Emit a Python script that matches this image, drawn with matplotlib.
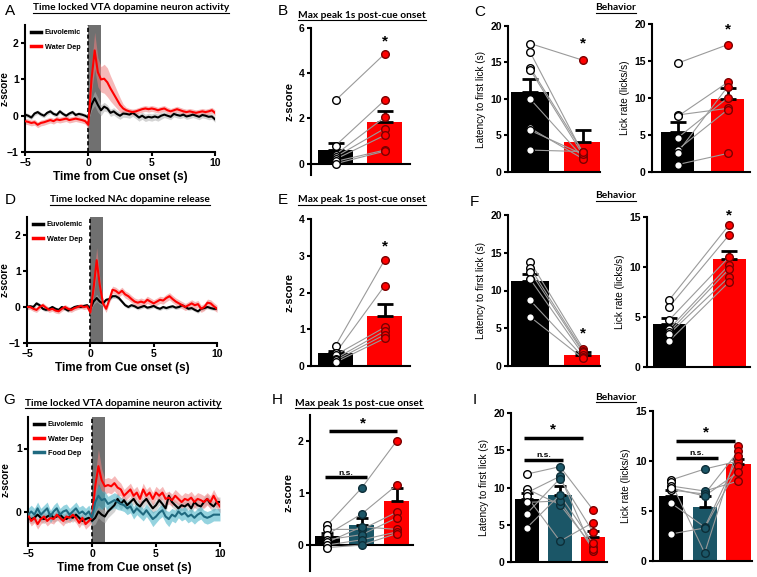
import numpy as np
import matplotlib.pyplot as plt
from matplotlib.lines import Line2D

plt.rcParams['font.family'] = ['Liberation Sans', 'DejaVu Sans']

W, H = 757, 577
RED = '#ff0000'
TEAL_BAR = '#1b5667'
TEAL_LINE = '#1f6a80'
TEAL_BAND = '#3fb0c6'

# time axis, 0.25 s steps from -5 to 10 s
t = np.linspace(-5, 10, 61)

# ---- panel A: VTA dopamine neuron activity ----
a_euv = [0.03, 0.0, -0.05, 0.06, 0.1, 0.04, 0.0, 0.08, 0.12, 0.05, 0.02, 0.12, 0.05, 0.0, 0.06, 0.1, 0.02, 0.05, 0.03, 0.0,
         -0.05, 0.3, 0.48, 0.3, 0.15, 0.25, 0.2, 0.08, 0.12, 0.05, 0.0, 0.06, 0.05, 0.03, 0.08, 0.02, -0.05, 0.0, -0.06, -0.03,
         -0.05, -0.02, -0.05, 0.0, 0.03, 0.0, -0.03, 0.05, 0.02, 0.0, 0.03, -0.02, 0.0, 0.03, 0.0, -0.03, 0.02, 0.0, -0.03, -0.02, -0.1]
a_euv_sem = [0.06, 0.06, 0.06, 0.06, 0.06, 0.06, 0.06, 0.06, 0.06, 0.06, 0.06, 0.06, 0.06, 0.06, 0.06, 0.06, 0.06, 0.06, 0.06, 0.06,
             0.08, 0.15, 0.2, 0.2, 0.15, 0.12, 0.1, 0.1, 0.1, 0.1, 0.1, 0.1, 0.1, 0.1, 0.1, 0.1, 0.1, 0.1, 0.1, 0.1,
             0.1, 0.1, 0.1, 0.1, 0.08, 0.08, 0.08, 0.08, 0.08, 0.08, 0.08, 0.08, 0.08, 0.08, 0.08, 0.08, 0.08, 0.08, 0.08, 0.08, 0.08]
a_wd = [-0.15, -0.17, -0.2, -0.18, -0.25, -0.2, -0.18, -0.15, -0.12, -0.15, -0.1, -0.12, -0.1, -0.08, -0.12, -0.1, -0.08, -0.1, -0.12, -0.15,
        -0.25, 1.0, 1.8, 1.2, 1.0, 1.02, 0.92, 0.75, 0.6, 0.45, 0.3, 0.2, 0.15, 0.12, 0.1, 0.12, 0.15, 0.18, 0.2, 0.18,
        0.2, 0.18, 0.15, 0.18, 0.2, 0.15, 0.12, 0.15, 0.18, 0.15, 0.12, 0.1, 0.12, 0.1, 0.08, 0.1, 0.12, 0.1, 0.12, 0.15, 0.08]
a_wd_sem = [0.08, 0.08, 0.08, 0.08, 0.08, 0.08, 0.08, 0.08, 0.08, 0.08, 0.08, 0.08, 0.08, 0.08, 0.08, 0.08, 0.08, 0.08, 0.08, 0.08,
            0.1, 0.35, 0.5, 0.4, 0.35, 0.4, 0.4, 0.35, 0.3, 0.25, 0.2, 0.12, 0.08, 0.08, 0.08, 0.08, 0.08, 0.08, 0.08, 0.08,
            0.08, 0.08, 0.08, 0.08, 0.08, 0.08, 0.08, 0.08, 0.08, 0.08, 0.08, 0.08, 0.08, 0.08, 0.08, 0.08, 0.08, 0.08, 0.08, 0.08, 0.08]

# ---- panel D: NAc dopamine release ----
d_euv = [0.0, 0.02, 0.0, 0.1, 0.05, -0.05, -0.08, -0.05, 0.0, -0.05, -0.08, 0.0, -0.05, -0.1, -0.05, 0.0, 0.02, 0.0, 0.03, 0.05,
         -0.05, 0.15, 0.25, 0.15, 0.1, 0.2, 0.22, 0.3, 0.3, 0.25, 0.15, 0.05, 0.0, 0.05, 0.02, -0.03, 0.0, 0.03, -0.02, 0.0,
         0.03, -0.02, -0.05, 0.0, -0.03, 0.0, 0.02, -0.02, 0.0, 0.05, 0.0, -0.05, -0.03, -0.08, -0.12, -0.05, -0.03, 0.0, -0.03, -0.05, -0.05]
d_euv_sem = [0.05, 0.05, 0.05, 0.06, 0.05, 0.05, 0.05, 0.05, 0.05, 0.05, 0.05, 0.05, 0.05, 0.05, 0.05, 0.05, 0.05, 0.05, 0.05, 0.05,
             0.05, 0.08, 0.1, 0.08, 0.06, 0.06, 0.06, 0.06, 0.06, 0.06, 0.05, 0.05, 0.05, 0.05, 0.05, 0.05, 0.05, 0.05, 0.05, 0.05,
             0.05, 0.05, 0.05, 0.05, 0.05, 0.05, 0.05, 0.05, 0.05, 0.05, 0.05, 0.05, 0.05, 0.05, 0.05, 0.05, 0.05, 0.05, 0.05, 0.05, 0.05]
d_wd = [0.0, 0.0, -0.05, -0.08, 0.0, 0.05, -0.02, -0.08, -0.05, -0.1, -0.12, -0.05, 0.0, -0.05, -0.08, -0.03, 0.0, 0.03, 0.0, 0.02,
        -0.15, 0.5, 1.3, 0.6, 0.1, -0.05, 0.2, 0.48, 0.45, 0.38, 0.45, 0.35, 0.3, 0.22, 0.15, 0.12, 0.15, 0.12, 0.2, 0.15,
        0.1, 0.15, 0.2, 0.18, 0.25, 0.3, 0.22, 0.15, 0.1, 0.05, 0.0, 0.05, 0.1, 0.05, 0.08, -0.05, 0.0, 0.12, 0.1, 0.02, -0.05]
d_wd_sem = [0.07, 0.07, 0.07, 0.07, 0.07, 0.07, 0.07, 0.07, 0.07, 0.07, 0.07, 0.07, 0.07, 0.07, 0.07, 0.07, 0.07, 0.07, 0.07, 0.07,
            0.08, 0.2, 0.35, 0.2, 0.1, 0.1, 0.1, 0.1, 0.1, 0.1, 0.1, 0.1, 0.1, 0.1, 0.1, 0.1, 0.1, 0.1, 0.1, 0.1,
            0.1, 0.1, 0.1, 0.1, 0.1, 0.1, 0.1, 0.1, 0.1, 0.1, 0.1, 0.1, 0.1, 0.1, 0.1, 0.1, 0.1, 0.1, 0.1, 0.1, 0.1]

# ---- panel G: VTA with food deprivation ----
g_euv = [-0.1, -0.12, -0.1, -0.05, -0.1, -0.12, -0.08, -0.05, -0.1, -0.08, -0.05, -0.1, -0.12, -0.08, -0.1, -0.05, -0.1, -0.15, -0.12, -0.1,
         -0.15, -0.1, 0.0, -0.05, -0.08, 0.0, 0.05, 0.1, 0.2, 0.12, 0.18, 0.1, 0.15, 0.2, 0.12, 0.08, 0.15, 0.2, 0.12, 0.05,
         0.1, 0.18, 0.12, 0.05, 0.25, 0.15, 0.1, 0.05, 0.1, 0.08, 0.12, 0.05, 0.15, 0.1, 0.08, 0.15, 0.2, 0.12, 0.08, 0.15, 0.15]
g_euv_sem = [0.07, 0.07, 0.07, 0.07, 0.07, 0.07, 0.07, 0.07, 0.07, 0.07, 0.07, 0.07, 0.07, 0.07, 0.07, 0.07, 0.07, 0.07, 0.07, 0.07,
             0.08, 0.1, 0.1, 0.1, 0.1, 0.1, 0.1, 0.1, 0.1, 0.1, 0.08, 0.08, 0.08, 0.08, 0.08, 0.08, 0.08, 0.08, 0.08, 0.08,
             0.08, 0.08, 0.08, 0.08, 0.08, 0.08, 0.08, 0.08, 0.08, 0.08, 0.08, 0.08, 0.08, 0.08, 0.08, 0.08, 0.08, 0.08, 0.08, 0.08, 0.08]
g_wd = [-0.05, -0.15, -0.1, -0.2, -0.12, -0.08, -0.15, -0.1, -0.12, -0.05, -0.1, -0.15, -0.08, -0.1, -0.05, -0.1, -0.18, -0.1, -0.2, -0.15,
        -0.1, 0.4, 0.72, 0.5, 0.4, 0.42, 0.4, 0.45, 0.38, 0.35, 0.25, 0.3, 0.35, 0.25, 0.3, 0.2, 0.35, 0.25, 0.3, 0.2,
        0.3, 0.25, 0.3, 0.2, 0.22, 0.18, 0.25, 0.2, 0.15, 0.2, 0.18, 0.22, 0.15, 0.2, 0.18, 0.15, 0.2, 0.15, 0.25, 0.15, 0.08]
g_wd_sem = [0.08, 0.08, 0.08, 0.08, 0.08, 0.08, 0.08, 0.08, 0.08, 0.08, 0.08, 0.08, 0.08, 0.08, 0.08, 0.08, 0.08, 0.08, 0.08, 0.08,
            0.08, 0.18, 0.27, 0.18, 0.12, 0.12, 0.12, 0.12, 0.12, 0.1, 0.1, 0.1, 0.1, 0.1, 0.1, 0.1, 0.1, 0.1, 0.1, 0.1,
            0.1, 0.1, 0.1, 0.1, 0.1, 0.1, 0.1, 0.1, 0.1, 0.1, 0.1, 0.1, 0.1, 0.1, 0.1, 0.1, 0.1, 0.1, 0.1, 0.1, 0.1]
g_fd = [-0.05, 0.0, -0.05, 0.05, -0.05, 0.0, 0.05, -0.08, 0.0, 0.05, -0.05, 0.0, 0.02, -0.05, 0.0, 0.05, -0.03, 0.0, -0.05, 0.0,
        -0.1, 0.15, 0.25, 0.18, 0.2, 0.12, 0.15, 0.18, 0.15, 0.12, 0.1, 0.05, 0.08, -0.02, 0.05, 0.0, -0.05, 0.02, -0.05, -0.12,
        -0.08, -0.02, 0.02, -0.08, -0.12, -0.05, -0.08, 0.0, -0.05, -0.02, -0.08, -0.05, -0.1, -0.05, -0.02, -0.08, -0.1, -0.08, -0.05, -0.05, -0.05]
g_fd_sem = [0.1, 0.1, 0.1, 0.1, 0.1, 0.1, 0.1, 0.1, 0.1, 0.1, 0.1, 0.1, 0.1, 0.1, 0.1, 0.1, 0.1, 0.1, 0.1, 0.1,
            0.1, 0.15, 0.18, 0.15, 0.12, 0.12, 0.12, 0.12, 0.12, 0.1, 0.1, 0.1, 0.1, 0.1, 0.1, 0.1, 0.1, 0.1, 0.1, 0.12,
            0.1, 0.1, 0.1, 0.1, 0.12, 0.1, 0.1, 0.1, 0.1, 0.1, 0.1, 0.1, 0.1, 0.1, 0.1, 0.1, 0.1, 0.1, 0.1, 0.1, 0.1]

# ---- individual animals (paired across groups) and bar stats ----
b_euv = [2.8, 0.8, 0.4, 0.3, 0.2, 0.1, 0.0]
b_wd = [4.85, 2.8, 2.05, 1.55, 1.25, 0.6, 0.55]
b_mean, b_sem = [0.6, 1.85], [0.3, 0.5]

c1_euv = [17.6, 16.4, 14.3, 14.0, 10.0, 6.0, 5.7, 3.0]
c1_wd = [15.3, 2.5, 2.7, 2.3, 2.0, 1.8, 2.4, 2.8]
c1_mean, c1_sem = [11.0, 4.1], [1.8, 1.6]

c2_euv = [14.7, 7.7, 7.5, 4.6, 3.0, 2.6, 1.0]
c2_wd = [17.2, 8.6, 12.1, 10.0, 8.4, 11.5, 2.5]
c2_mean, c2_sem = [5.4, 9.9], [1.4, 1.5]

e_euv = [0.55, 0.35, 0.3, 0.2, 0.15, 0.1]
e_wd = [2.88, 2.18, 1.05, 0.95, 0.85, 0.75]
e_mean, e_sem = [0.35, 1.35], [0.05, 0.33]

f1_euv = [13.8, 13.0, 12.5, 11.5, 8.7, 6.5]
f1_wd = [2.3, 2.0, 1.8, 1.5, 1.2, 1.0]
f1_mean, f1_sem = [11.2, 1.5], [1.0, 0.3]

f2_euv = [6.7, 6.0, 4.7, 3.8, 3.5, 3.3, 2.6]
f2_wd = [14.2, 13.2, 11.0, 10.2, 9.8, 9.0, 8.5]
f2_mean, f2_sem = [4.3, 10.8], [0.6, 0.8]

h_euv = [0.38, 0.3, 0.2, 0.1, 0.05, 0.0, -0.05]
h_fd = [1.1, 0.3, 0.6, 0.2, 0.35, 0.1, 0.0]
h_wd = [2.0, 0.63, 1.15, 0.52, 0.3, 0.25, 0.22]
h_mean, h_sem = [0.17, 0.38, 0.85], [0.06, 0.14, 0.25]

i1_euv = [11.8, 9.8, 9.3, 8.8, 8.0, 6.5, 4.6]
i1_fd = [12.8, 7.7, 11.5, 2.8, 8.2, 11.2, 9.0]
i1_wd = [7.0, 2.0, 1.5, 5.3, 1.7, 4.0, 2.5]
i1_mean, i1_sem = [8.5, 9.0, 3.4], [0.7, 1.2, 0.8]

i2_euv = [8.1, 7.9, 7.5, 7.1, 5.8, 2.7, 7.3]
i2_fd = [9.2, 0.8, 7.0, 6.7, 3.4, 3.3, 6.5]
i2_wd = [10.0, 11.5, 8.0, 11.0, 10.5, 9.5, 8.9]
i2_mean, i2_sem = [6.5, 5.4, 9.7], [0.6, 1.1, 0.5]

fig = plt.figure(figsize=(W / 100, H / 100), dpi=100)


def px_axes(x0, y0, x1, y1):
    return fig.add_axes([x0 / W, 1 - y1 / H, (x1 - x0) / W, (y1 - y0) / H])


def style(ax):
    for s in ['top', 'right']:
        ax.spines[s].set_visible(False)
    for s in ['left', 'bottom']:
        ax.spines[s].set_linewidth(1.5)
    ax.tick_params(width=1.5, length=3, labelsize=7.5, pad=1.5)
    for lab in ax.get_xticklabels() + ax.get_yticklabels():
        lab.set_fontweight('bold')


def trace_panel(ax, series, ylim, yticks, label_x):
    ax.axvspan(0, 1, color='#707070', lw=0, zorder=0)
    ax.axvline(0, color='black', ls=(0, (2.5, 1.5)), lw=1.2, zorder=1)
    handles = []
    for y, sem, col, band, lab in series:
        y, sem = np.array(y), np.array(sem)
        ax.fill_between(t, y - sem, y + sem, color=band, alpha=0.55, lw=0, zorder=2)
        ax.plot(t, y, color=col, lw=1.5, zorder=3)
        handles.append(Line2D([], [], color=col, lw=2.5, label=lab))
    ax.set_xlim(-5, 10)
    ax.set_ylim(*ylim)
    ax.set_xticks([-5, 0, 5, 10])
    ax.set_yticks(yticks)
    ax.set_xlabel('Time from Cue onset (s)', fontsize=8.5, fontweight='bold', labelpad=2)
    ax.set_ylabel('z-score', fontsize=7.2, fontweight='bold')
    ax.yaxis.set_label_coords(label_x, 0.5)
    leg = ax.legend(handles=handles, loc='upper left', frameon=False, fontsize=5.2,
                    handlelength=1.4, handletextpad=0.5, labelspacing=1.0,
                    borderaxespad=0.2, bbox_to_anchor=(0.01, 1.0))
    for tx in leg.get_texts():
        tx.set_fontweight('bold')
    style(ax)


def bar_panel(ax, groups, colors, means, sems, xlim, ylim, yticks, ylabel,
              width=0.7, cap=6, bold_label=False):
    x = np.arange(len(groups))
    ax.bar(x, means, width=width, color=colors, zorder=1)
    for xi, m, s in zip(x, means, sems):
        ax.errorbar(xi, m, yerr=[[0], [s]], color='black', lw=2, capsize=cap,
                    capthick=2, zorder=2)
    pts = np.array(groups)
    for k in range(pts.shape[1]):
        ax.plot(x, pts[:, k], color='#9a9a9a', lw=0.8, zorder=3, clip_on=False)
    faces = {'black': 'white', RED: RED, TEAL_BAR: TEAL_BAR}
    edges = {'black': 'black', RED: '#7a0000', TEAL_BAR: '#0d2e38'}
    for xi, g, c in zip(x, groups, colors):
        ax.plot([xi] * len(g), g, 'o', ms=5.5, mfc=faces[c], mec=edges[c], mew=1,
                zorder=4, clip_on=False)
    ax.set_xlim(*xlim)
    ax.set_ylim(*ylim)
    ax.set_yticks(yticks)
    ax.set_xticks([])
    ax.spines['bottom'].set_position(('data', 0))
    ax.set_ylabel(ylabel, fontsize=7.2 if not bold_label else 8,
                  fontweight='bold' if bold_label else 'normal', labelpad=3)
    style(ax)


def star(ax, x, y, size=11):
    ax.text(x, y, '*', ha='center', va='center', fontsize=size, fontweight='bold')


def sig(ax, x0, x1, y, label, dy):
    ax.plot([x0, x1], [y, y], color='black', lw=2.5, solid_capstyle='butt', clip_on=False)
    if label == '*':
        ax.text((x0 + x1) / 2, y + dy * 1.1, '*', ha='center', va='center', fontsize=11, fontweight='bold')
    else:
        ax.text((x0 + x1) / 2, y + dy * 0.6, label, ha='center', va='center', fontsize=6, fontweight='bold')


# ---- row 1 ----
axA = px_axes(25, 25, 215, 152)
trace_panel(axA, [(a_euv, a_euv_sem, 'black', '#b0b0b0', 'Euvolemic'),
                  (a_wd, a_wd_sem, RED, '#f08080', 'Water Dep')], (-1, 2.5), [-1, 0, 1, 2], -0.08)

axB = px_axes(311, 28, 410, 175)
bar_panel(axB, [b_euv, b_wd], ['black', RED], b_mean, b_sem, (-0.5, 1.52), (-0.5, 6), [0, 2, 4, 6],
          'z-score', width=0.7, cap=6, bold_label=True)
star(axB, 1, 5.4)

axC1 = px_axes(508, 26, 600, 172)
bar_panel(axC1, [c1_euv, c1_wd], ['black', RED], c1_mean, c1_sem, (-0.42, 1.32), (0, 20), [0, 5, 10, 15, 20],
          'Latency to first lick (s)', width=0.72)
star(axC1, 1, 17.6)

axC2 = px_axes(652, 24, 750, 172)
bar_panel(axC2, [c2_euv, c2_wd], ['black', RED], c2_mean, c2_sem, (-0.51, 1.45), (0, 20), [0, 5, 10, 15, 20],
          'Lick rate (licks/s)', width=0.66)
star(axC2, 1, 19.2)

# ---- row 2 ----
axD = px_axes(27, 217, 217, 343)
trace_panel(axD, [(d_euv, d_euv_sem, 'black', '#b0b0b0', 'Euvolemic'),
                  (d_wd, d_wd_sem, RED, '#f08080', 'Water Dep')], (-1, 2.5), [-1, 0, 1, 2], -0.09)

axE = px_axes(311, 219, 410, 366)
bar_panel(axE, [e_euv, e_wd], ['black', RED], e_mean, e_sem, (-0.5, 1.52), (0, 4), [0, 1, 2, 3, 4],
          'z-score', width=0.7, cap=6, bold_label=True)
star(axE, 1, 3.25)

axF1 = px_axes(508, 215, 600, 366)
bar_panel(axF1, [f1_euv, f1_wd], ['black', RED], f1_mean, f1_sem, (-0.42, 1.32), (0, 20), [0, 5, 10, 15, 20],
          'Latency to first lick (s)', width=0.72)
star(axF1, 1, 4.3)

axF2 = px_axes(647, 217, 750, 367)
bar_panel(axF2, [f2_euv, f2_wd], ['black', RED], f2_mean, f2_sem, (-0.37, 1.35), (0, 15), [0, 5, 10, 15],
          'Lick rate (licks/s)', width=0.55)
star(axF2, 1, 15.2)

# ---- row 3 ----
axG = px_axes(28, 417, 220, 543)
trace_panel(axG, [(g_euv, g_euv_sem, 'black', '#b0b0b0', 'Euvolemic'),
                  (g_wd, g_wd_sem, RED, '#f08080', 'Water Dep'),
                  (g_fd, g_fd_sem, TEAL_LINE, TEAL_BAND, 'Food Dep')], (-0.5, 1.5), [0, 1], -0.09)

axH = px_axes(310, 415, 413, 571)
bar_panel(axH, [h_euv, h_fd, h_wd], ['black', TEAL_BAR, RED], h_mean, h_sem, (-0.49, 2.47), (-0.5, 2.5),
          [0, 1, 2], 'z-score', width=0.72, cap=4, bold_label=True)
sig(axH, -0.05, 1.15, 1.3, 'n.s.', 0.12)
sig(axH, 0.05, 2.0, 2.2, '*', 0.12)

axI1 = px_axes(511, 413, 607, 562)
bar_panel(axI1, [i1_euv, i1_fd, i1_wd], ['black', TEAL_BAR, RED], i1_mean, i1_sem, (-0.48, 2.42), (0, 20),
          [0, 5, 10, 15, 20], 'Latency to first lick (s)', width=0.73, cap=4)
sig(axI1, -0.1, 1.1, 13.7, 'n.s.', 1.0)
sig(axI1, -0.1, 1.7, 16.7, '*', 1.0)

axI2 = px_axes(653, 411, 752, 561)
bar_panel(axI2, [i2_euv, i2_fd, i2_wd], ['black', TEAL_BAR, RED], i2_mean, i2_sem, (-0.53, 2.4), (0, 15),
          [0, 5, 10, 15], 'Lick rate (licks/s)', width=0.72, cap=4)
sig(axI2, 0.15, 1.4, 10.3, 'n.s.', 0.8)
sig(axI2, 0.15, 1.9, 12.0, '*', 0.8)

# ---- titles and letters ----
titles = [
    (131, 8, 'Time locked VTA dopamine neuron activity'),
    (362, 15, 'Max peak 1s post-cue onset'),
    (616, 8, 'Behavior'),
    (130, 200, 'Time locked NAc dopamine release'),
    (362, 200, 'Max peak 1s post-cue onset'),
    (616, 196, 'Behavior'),
    (123, 403, 'Time locked VTA dopamine neuron activity'),
    (359, 403, 'Max peak 1s post-cue onset'),
    (616, 397, 'Behavior'),
]
title_texts = []
for x, y, s in titles:
    title_texts.append(fig.text(x / W, 1 - y / H, s, ha='center', va='center', fontsize=7.3,
                                fontweight='bold', family=['Lato', 'DejaVu Sans']))

letters = [(10, 11, 'A'), (283, 11, 'B'), (480, 12, 'C'),
           (10, 200, 'D'), (283, 200, 'E'), (474, 202, 'F'),
           (9, 400, 'G'), (277, 400, 'H'), (475, 400, 'I')]
for x, y, s in letters:
    fig.text(x / W, 1 - y / H, s, ha='center', va='center', fontsize=11)

# underline the titles
fig.canvas.draw()
rend = fig.canvas.get_renderer()
for tx in title_texts:
    bb = tx.get_window_extent(rend)
    yl = (bb.y0 - 0.5) / H
    fig.add_artist(Line2D([bb.x0 / W, bb.x1 / W], [yl, yl], color='black', lw=0.8,
                          transform=fig.transFigure))

fig.savefig('out.png', dpi=100)
